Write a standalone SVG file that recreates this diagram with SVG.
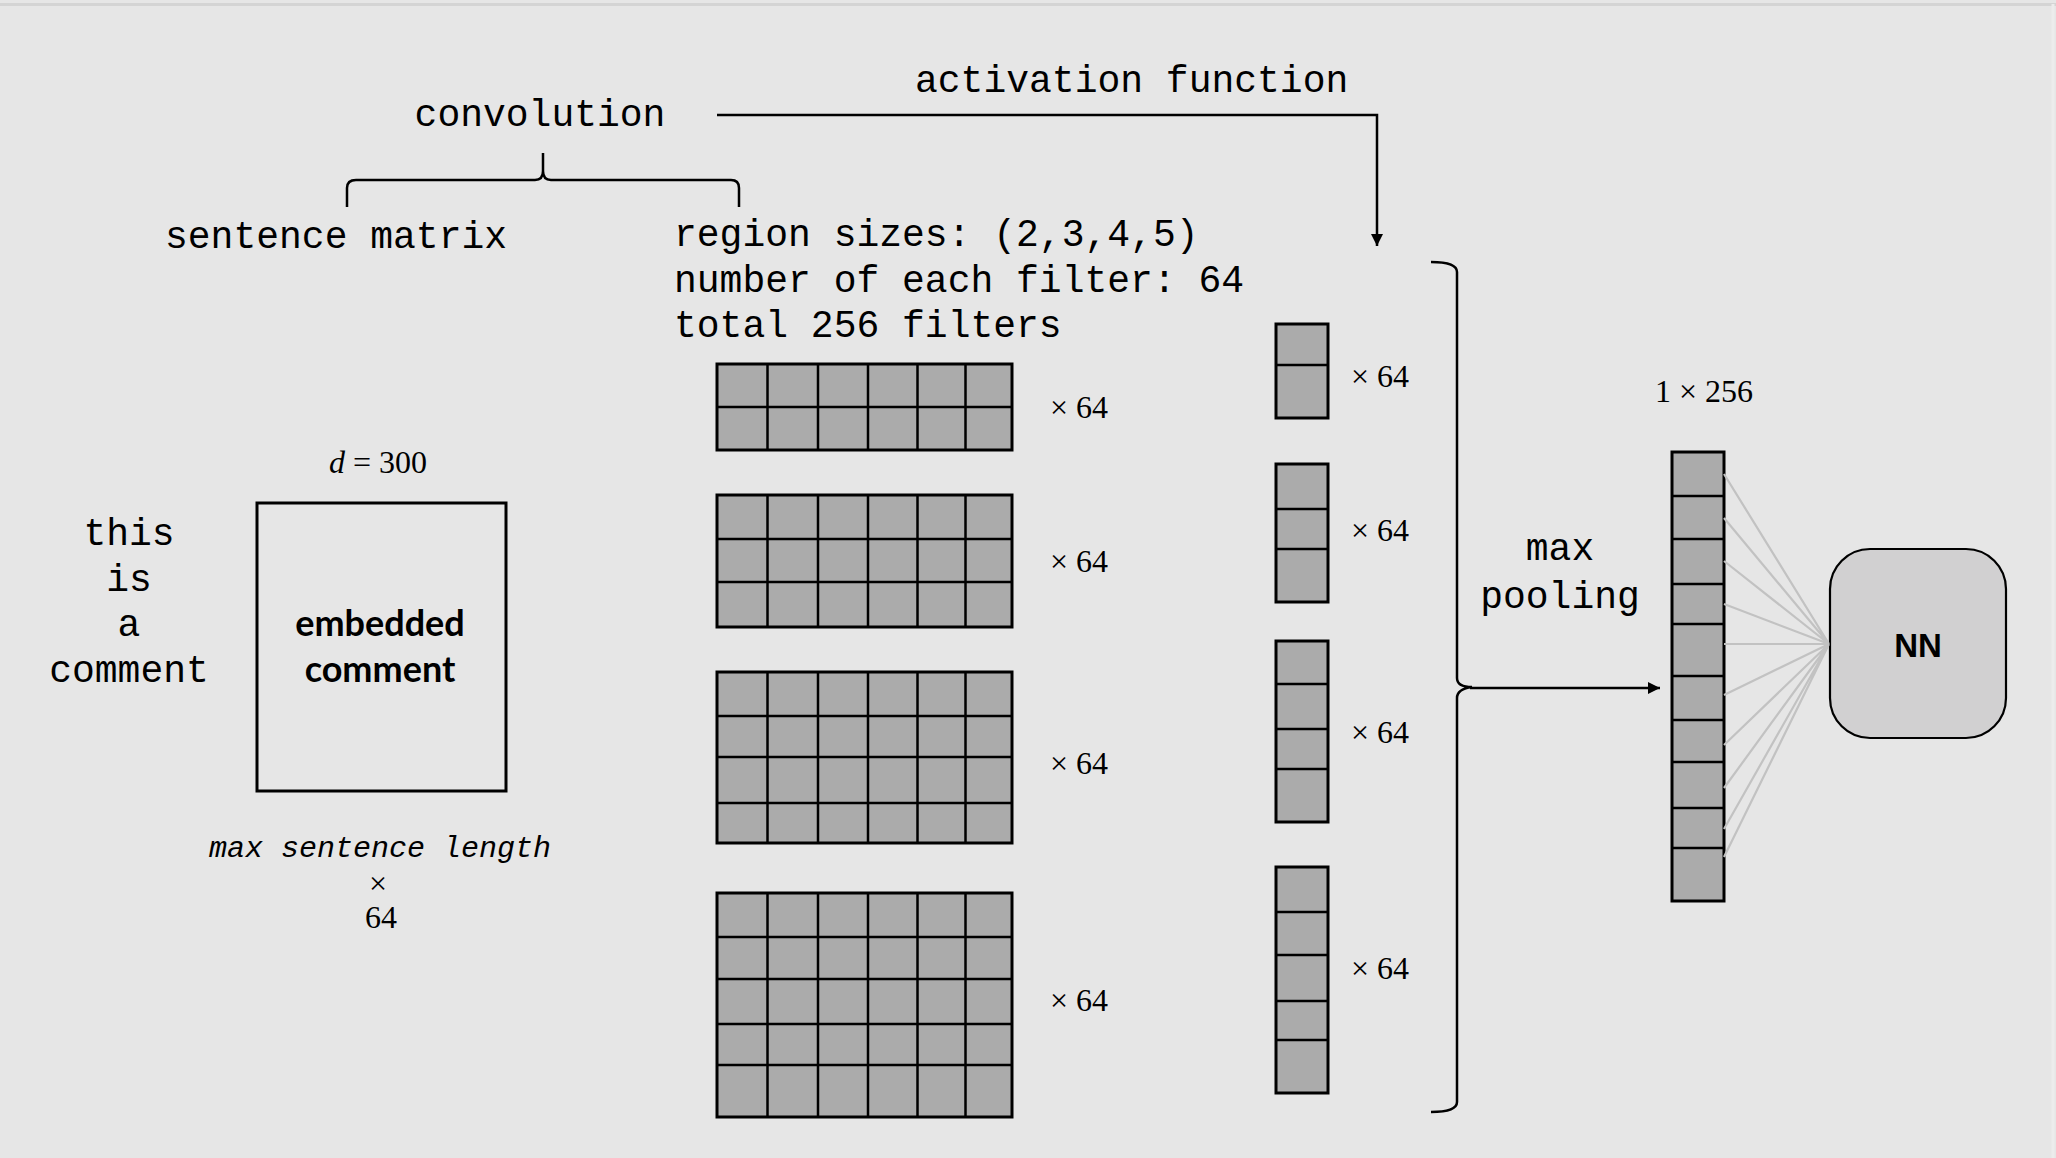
<svg xmlns="http://www.w3.org/2000/svg" width="2056" height="1158" viewBox="0 0 2056 1158">
<defs>
<style>
.mono{font-family:"Liberation Mono","Courier New",monospace;font-size:38px;fill:#000}
.it{font-family:"Liberation Mono","Courier New",monospace;font-size:30px;font-style:italic;fill:#000}
.math{font-family:"Liberation Serif","Times New Roman",serif;font-size:32px;fill:#000}
.cell{fill:#ababab;stroke:#000;stroke-width:3}
.line{fill:none;stroke:#000;stroke-width:2.5}
.fan{fill:none;stroke:#c2c2c2;stroke-width:2.2}
</style>
<marker id="ah" viewBox="0 0 10 10" refX="10" refY="5" markerWidth="5" markerHeight="5" orient="auto" markerUnits="strokeWidth">
<path d="M0,0 L10,5 L0,10 z" fill="#000"/>
</marker>
</defs>
<rect x="0" y="0" width="2056" height="1158" fill="#e6e6e6"/>
<line x1="0" y1="4.5" x2="2056" y2="4.5" stroke="#d4d4d4" stroke-width="3"/>
<line x1="2053" y1="4" x2="2053" y2="1158" stroke="#ececec" stroke-width="3"/>

<g id="labels">
<text class="mono" x="540" y="126" text-anchor="middle">convolution</text>
<text class="mono" x="915" y="92">activation function</text>
<text class="mono" x="165" y="248">sentence matrix</text>
<text class="mono" x="674" y="246">region sizes: (2,3,4,5)</text>
<text class="mono" x="674" y="292">number of each filter: 64</text>
<text class="mono" x="674" y="337">total 256 filters</text>
</g>

<g id="input-text">
<text class="mono" x="129" y="545" text-anchor="middle">this</text>
<text class="mono" x="129" y="591" text-anchor="middle">is</text>
<text class="mono" x="129" y="636" text-anchor="middle">a</text>
<text class="mono" x="129" y="682" text-anchor="middle">comment</text>
</g>

<g id="embedded">
<rect x="257" y="503" width="249" height="288" fill="none" stroke="#000" stroke-width="3"/>
<text x="380" y="636" text-anchor="middle" font-family="Lato,'Open Sans',sans-serif" font-weight="700" font-size="36">embedded</text>
<text x="380" y="682" text-anchor="middle" font-family="Lato,'Open Sans',sans-serif" font-weight="700" font-size="36">comment</text>
<text class="math" x="378" y="473" text-anchor="middle" font-size="35"><tspan font-style="italic">d</tspan> = 300</text>
<text class="it" x="380" y="857" text-anchor="middle">max sentence length</text>
<text class="math" x="378" y="894" text-anchor="middle" font-size="36">×</text>
<text class="math" x="381" y="928" text-anchor="middle">64</text>
</g>

<g id="filter-2">
<rect class="cell" x="717" y="364" width="295" height="86"/>
<path class="line" stroke-width="3" d="M767.5,364V450M818,364V450M868,364V450M917.5,364V450M965.5,364V450M717,407H1012"/>
<text class="math" x="1050" y="418">× 64</text>
</g>
<g id="filter-3">
<rect class="cell" x="717" y="495" width="295" height="132"/>
<path class="line" stroke-width="3" d="M767.5,495V627M818,495V627M868,495V627M917.5,495V627M965.5,495V627M717,539H1012M717,582H1012"/>
<text class="math" x="1050" y="572">× 64</text>
</g>
<g id="filter-4">
<rect class="cell" x="717" y="672" width="295" height="171"/>
<path class="line" stroke-width="3" d="M767.5,672V843M818,672V843M868,672V843M917.5,672V843M965.5,672V843M717,716H1012M717,757H1012M717,803H1012"/>
<text class="math" x="1050" y="774">× 64</text>
</g>
<g id="filter-5">
<rect class="cell" x="717" y="893" width="295" height="224"/>
<path class="line" stroke-width="3" d="M767.5,893V1117M818,893V1117M868,893V1117M917.5,893V1117M965.5,893V1117M717,937H1012M717,979H1012M717,1024H1012M717,1065H1012"/>
<text class="math" x="1050" y="1011">× 64</text>
</g>

<g id="map-2">
<rect class="cell" x="1276" y="324" width="52" height="94"/>
<path class="line" stroke-width="3" d="M1276,365H1328"/>
<text class="math" x="1351" y="387">× 64</text>
</g>
<g id="map-3">
<rect class="cell" x="1276" y="464" width="52" height="138"/>
<path class="line" stroke-width="3" d="M1276,509H1328M1276,549H1328"/>
<text class="math" x="1351" y="541">× 64</text>
</g>
<g id="map-4">
<rect class="cell" x="1276" y="641" width="52" height="181"/>
<path class="line" stroke-width="3" d="M1276,684H1328M1276,729H1328M1276,769H1328"/>
<text class="math" x="1351" y="743">× 64</text>
</g>
<g id="map-5">
<rect class="cell" x="1276" y="867" width="52" height="226"/>
<path class="line" stroke-width="3" d="M1276,912H1328M1276,955H1328M1276,1001H1328M1276,1040H1328"/>
<text class="math" x="1351" y="979">× 64</text>
</g>

<g id="pooled">
<rect class="cell" x="1672" y="452" width="52" height="449"/>
<path class="line" stroke-width="3" d="M1672,496H1724M1672,539H1724M1672,584H1724M1672,624H1724M1672,676H1724M1672,720H1724M1672,762H1724M1672,808H1724M1672,848H1724"/>
<text class="math" x="1704" y="402" text-anchor="middle">1 × 256</text>
</g>

<g id="nn">
<rect x="1830" y="549" width="176" height="189" rx="40" ry="40" fill="#d1d0d1" stroke="#000" stroke-width="2.2"/>
<text x="1918" y="657" text-anchor="middle" font-family="'Liberation Sans',Arial,sans-serif" font-weight="700" font-size="33">NN</text>
</g>

<g id="connectors">
<path class="line" d="M347,207V188Q347,180 356,180H535Q543,180 543,171V153M543,171Q543,180 551,180H731Q739,180 739,188V207"/>
<path class="line" d="M717,115H1377V246" marker-end="url(#ah)"/>
<path class="line" d="M1431,262Q1457,262 1457,272V678Q1457,687 1472,687Q1457,689 1457,698V1102Q1457,1112 1431,1112"/>
<path class="line" d="M1470,688H1660" marker-end="url(#ah)"/>
<text class="mono" x="1560" y="560" text-anchor="middle">max</text>
<text class="mono" x="1560" y="608" text-anchor="middle">pooling</text>
<g class="fan">
<path d="M1724,474L1829,644M1724,518L1829,644M1724,561L1829,644M1724,604L1829,644M1724,644L1829,644M1724,695L1829,644M1724,745L1829,644M1724,788L1829,644M1724,829L1829,644M1724,857L1829,644"/>
</g>
</g>
</svg>
